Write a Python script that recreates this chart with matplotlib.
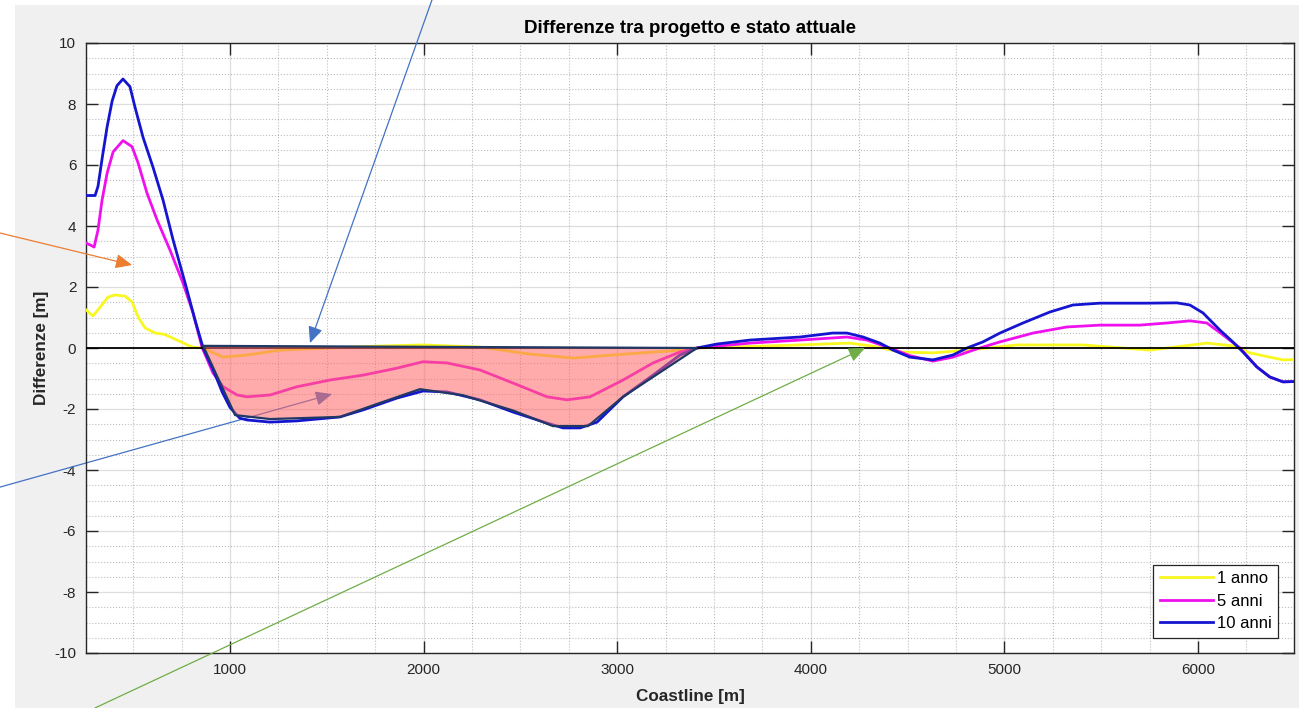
import numpy as np
import matplotlib.pyplot as plt
from matplotlib.patches import Polygon, Rectangle
from matplotlib.ticker import MultipleLocator

plt.rcParams['font.family'] = ['Liberation Sans', 'DejaVu Sans']
plt.rcParams['axes.unicode_minus'] = False

# 1 anno
x_1 = [256, 292, 329, 370, 406, 458, 494, 525, 561, 613, 660, 726, 804, 861, 964, 1088, 1258,
       1517, 1750, 1997, 2291, 2550, 2772, 2978, 3324, 3412, 3944, 4202, 4330, 4461, 4631,
       4807, 5065, 5406, 5752, 6046, 6180, 6268, 6439, 6496]
y_1 = [1.25, 1.05, 1.34, 1.67, 1.74, 1.7, 1.51, 1.02, 0.66, 0.49, 0.45, 0.26, 0.03, 0.0, -0.3,
       -0.23, -0.07, 0.0, 0.06, 0.1, 0.03, -0.2, -0.33, -0.23, -0.07, 0.0, 0.1, 0.16, 0.05,
       -0.13, -0.16, -0.07, 0.1, 0.1, -0.07, 0.16, 0.07, -0.16, -0.39, -0.38]

# 5 anni
x_5 = [256, 277, 298, 318, 339, 365, 396, 447, 494, 525, 571, 623, 690, 757, 809, 855, 912, 964,
       1036, 1088, 1207, 1346, 1517, 1687, 1863, 1997, 2121, 2291, 2462, 2637, 2741, 2860, 3030,
       3185, 3324, 3412, 3686, 3944, 4187, 4290, 4409, 4512, 4631, 4734, 4858, 4977, 5148, 5323,
       5494, 5700, 5840, 5958, 6046, 6129, 6217, 6304, 6371, 6439, 6496]
y_5 = [3.44, 3.38, 3.31, 3.87, 4.85, 5.73, 6.43, 6.8, 6.6, 6.07, 5.08, 4.2, 3.21, 2.13, 1.15, 0.03,
       -0.82, -1.27, -1.54, -1.6, -1.54, -1.27, -1.05, -0.89, -0.66, -0.45, -0.49, -0.72, -1.15,
       -1.6, -1.7, -1.6, -1.05, -0.49, -0.13, 0.0, 0.16, 0.26, 0.36, 0.26, 0.0, -0.25, -0.43,
       -0.3, -0.03, 0.2, 0.49, 0.69, 0.75, 0.75, 0.82, 0.89, 0.82, 0.43, 0.0, -0.62, -0.95,
       -1.11, -1.1]

# 10 anni
x_10 = [256, 303, 318, 339, 365, 391, 416, 447, 483, 509, 551, 602, 654, 706, 768, 819, 861, 912,
        960, 1000, 1050, 1088, 1207, 1346, 1568, 1687, 1863, 1997, 2121, 2291, 2462, 2637, 2720,
        2808, 2896, 3030, 3185, 3324, 3412, 3515, 3686, 3944, 4114, 4187, 4270, 4357, 4425, 4512,
        4631, 4734, 4807, 4889, 4977, 5096, 5235, 5354, 5494, 5736, 5891, 5958, 6026, 6113, 6180,
        6232, 6304, 6371, 6439, 6496]
y_10 = [5.0, 5.0, 5.3, 6.2, 7.25, 8.1, 8.6, 8.82, 8.57, 7.9, 6.9, 5.93, 4.85, 3.54, 2.13, 0.92,
        0.0, -0.7, -1.45, -1.95, -2.3, -2.36, -2.43, -2.39, -2.26, -2.03, -1.64, -1.41, -1.44,
        -1.7, -2.1, -2.46, -2.62, -2.62, -2.43, -1.6, -0.89, -0.23, 0.0, 0.13, 0.26, 0.36, 0.49,
        0.49, 0.36, 0.16, -0.07, -0.3, -0.39, -0.23, 0.0, 0.2, 0.49, 0.82, 1.18, 1.41, 1.47,
        1.47, 1.48, 1.41, 1.15, 0.59, 0.2, -0.13, -0.62, -0.95, -1.11, -1.1]

labels = ['1 anno', '5 anni', '10 anni']

# evidenziazione area di erosione (poligono sovrapposto)
area_x = [861, 1026, 1207, 1568, 1775, 1981, 2203, 2462, 2668, 2849, 3030, 3221, 3412]
area_y = [0.07, -2.2, -2.33, -2.26, -1.8, -1.35, -1.55, -2.05, -2.56, -2.56, -1.6, -0.8, 0.0]
area_top_y = [0.0, 0.07]  # da destra a sinistra

# frecce (coda, punta) in coordinate dati
arrows = [
    ((-188, 3.77), (494, 2.72), '#ed7d31', 6),
    ((2043, 11.41), (1413, 0.16), '#4472c4', 6),
    ((-188, -4.56), (1527, -1.51), '#4472c4', 2),
    ((303, -11.8), (4280, 0.0), '#70ad47', 6),
]

fig = plt.figure(figsize=(13.01, 7.08), dpi=100, facecolor='white')
fig.patches.append(Rectangle((15 / 1301, 0), 1284 / 1301, 703 / 708, transform=fig.transFigure,
                             facecolor='#f0f0f0', edgecolor='none', zorder=-10))
ax = fig.add_axes([86 / 1301, 55 / 708, 1208 / 1301, 610 / 708])
ax.set_facecolor('white')

ax.plot(x_1, y_1, color='#f8f820', lw=2, label=labels[0], zorder=3, solid_joinstyle='round')
ax.plot(x_5, y_5, color='#ee11ee', lw=2, label=labels[1], zorder=3, solid_joinstyle='round')
ax.plot(x_10, y_10, color='#1515d0', lw=2, label=labels[2], zorder=3, solid_joinstyle='round')
ax.axhline(0, color='black', lw=1.3, zorder=4)

poly_x = area_x + [area_x[-1], area_x[0]]
poly_y = area_y + area_top_y
ax.add_patch(Polygon(np.column_stack([poly_x, poly_y]), closed=True, facecolor='#ff6666',
                     alpha=0.55, edgecolor='none', zorder=5))
ax.add_patch(Polygon(np.column_stack([poly_x, poly_y]), closed=True, facecolor='none',
                     edgecolor='#203864', lw=1.6, zorder=7))

for tail, head, col, z in arrows:
    ax.annotate('', xy=head, xytext=tail, annotation_clip=False, zorder=z,
                arrowprops=dict(arrowstyle='-|>,head_length=0.5,head_width=0.22', color=col,
                                lw=0.9, mutation_scale=20, shrinkA=0, shrinkB=0))

ax.set_xlim(256, 6496)
ax.set_ylim(-10, 10)
ax.xaxis.set_major_locator(MultipleLocator(1000))
ax.xaxis.set_minor_locator(MultipleLocator(250))
ax.yaxis.set_major_locator(MultipleLocator(2))
ax.yaxis.set_minor_locator(MultipleLocator(0.5))
ax.grid(which='major', color='#262626', alpha=0.15, lw=0.9)
ax.grid(which='minor', color='#262626', alpha=0.3, lw=0.8, ls=':')
ax.set_axisbelow(True)
ax.tick_params(which='major', direction='in', length=8.5, width=1, top=True, right=True,
               colors='#262626', labelsize=11, pad=7)
ax.tick_params(which='minor', length=0)
for s in ax.spines.values():
    s.set_color('#262626')
    s.set_linewidth(1)

ax.set_title('Differenze tra progetto e stato attuale', fontsize=13.5, fontweight='bold',
             color='black', pad=7)
ax.set_xlabel('Coastline [m]', fontsize=12.3, fontweight='bold', color='#262626', labelpad=9)
ax.set_ylabel('Differenze [m]', fontsize=12.3, fontweight='bold', color='#262626', labelpad=4)

leg = ax.legend(loc='lower right', bbox_to_anchor=(0.9868, 0.0246), borderaxespad=0,
                fontsize=12, fancybox=False, framealpha=1, edgecolor='#262626',
                handlelength=3.2, handletextpad=0.2, labelspacing=0.45, borderpad=0.4)
leg.get_frame().set_linewidth(0.9)
leg.set_zorder(10)

fig.savefig('out.png', dpi=100)
